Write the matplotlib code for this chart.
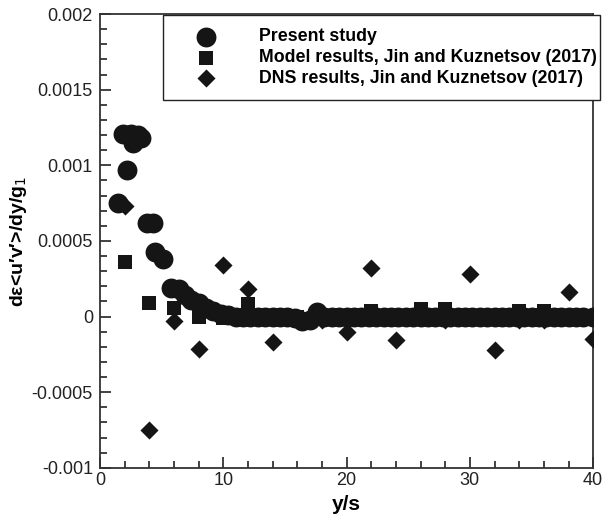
import matplotlib
matplotlib.use("Agg")
import matplotlib.pyplot as plt
from matplotlib.ticker import MultipleLocator, FuncFormatter

plt.rcParams['font.family'] = ['Liberation Sans', 'DejaVu Sans']

# present study
present_x = [1.5, 1.9, 2.2, 2.5, 2.7, 3.1, 3.3, 3.8, 4.3, 4.5, 5.1, 5.8, 6.4, 6.9,
             7.4, 8.0, 8.6, 9.2, 9.8, 10.4, 11.0, 11.6, 12.2, 12.8, 13.4, 14.0,
             14.6, 15.2, 15.8, 16.4, 17.0, 17.6, 18.2, 18.8, 19.4, 20.0, 20.6,
             21.2, 21.8, 22.4, 23.0, 23.6, 24.2, 24.8, 25.4, 26.0, 26.6, 27.2,
             27.8, 28.4, 29.0, 29.6, 30.2, 30.8, 31.4, 32.0, 32.6, 33.2, 33.8,
             34.4, 35.0, 35.6, 36.2, 36.8, 37.4, 38.0, 38.6, 39.2, 40.0]
present_y = [0.00075, 0.00121, 0.00097, 0.00121, 0.00115, 0.00120, 0.00118,
             0.00062, 0.00062, 0.00043, 0.00038, 0.00019, 0.00018, 0.00014,
             0.00011, 0.00009, 0.00006, 0.00004, 0.00002, 0.00001, 0.0, 0.0,
             0.0, 0.0, 0.0, 0.0, 0.0, 0.0, -0.00001, -0.00003, -0.00002,
             0.00003, 0.0, 0.0, 0.0, 0.0, 0.0, 0.0, 0.0, 0.0, 0.0, 0.0, 0.0,
             0.0, 0.0, 0.0, 0.0, 0.0, 0.0, 0.0, 0.0, 0.0, 0.0, 0.0, 0.0, 0.0,
             0.0, 0.0, 0.0, 0.0, 0.0, 0.0, 0.0, 0.0, 0.0, 0.0, 0.0, 0.0, 0.0]

# model results, Jin and Kuznetsov (2017)
model_x = [2, 4, 6, 8, 10, 12, 14, 16, 18, 20, 22, 24, 26, 28, 30, 32, 34, 36, 38, 40]
model_y = [0.00036, 0.00009, 0.00006, 0.0, -0.00001, 0.00008, -0.00001, 0.0,
           0.0, 0.0, 0.00004, 0.0, 0.00005, 0.00005, -0.00001, 0.0, 0.00004,
           0.00004, 0.0, 0.0]

# DNS results, Jin and Kuznetsov (2017)
dns_x = [2, 4, 6, 8, 10, 12, 14, 16, 18, 20, 22, 24, 26, 28, 30, 32, 34, 36, 38, 40]
dns_y = [0.00073, -0.00075, -0.00003, -0.000215, 0.00034, 0.00018, -0.00017,
         -0.00002, -0.00002, -0.0001, 0.00032, -0.000155, 0.0, -0.00002,
         0.00028, -0.00022, -0.00002, -0.00002, 0.00016, -0.00015]

col = '#151515'
fig = plt.figure(figsize=(6.09, 5.21), dpi=100)
ax = fig.add_axes([0.164, 0.102, 0.81, 0.871])

ax.scatter(present_x, present_y, s=205, marker='o', color=col, lw=0, label='Present study', zorder=3)
ax.scatter(model_x, model_y, s=90, marker='s', color=col, lw=0,
           label='Model results, Jin and Kuznetsov (2017)', zorder=3)
ax.scatter(dns_x, dns_y, s=85, marker='D', color=col, lw=0,
           label='DNS results, Jin and Kuznetsov (2017)', zorder=3)

ax.set_xlim(0, 40)
ax.set_ylim(-0.001, 0.002)
ax.xaxis.set_major_locator(MultipleLocator(10))
ax.xaxis.set_minor_locator(MultipleLocator(2))
ax.yaxis.set_major_locator(MultipleLocator(0.0005))
ax.yaxis.set_minor_locator(MultipleLocator(0.0001))
ax.yaxis.set_major_formatter(FuncFormatter(lambda v, p: '{:g}'.format(round(v, 6))))
ax.xaxis.set_major_formatter(FuncFormatter(lambda v, p: '{:g}'.format(v)))

ax.tick_params(which='both', direction='in', top=False, right=False,
               labelsize=13, colors='#222222', width=1.2)
ax.tick_params(which='major', length=8)
ax.tick_params(which='minor', length=5)
ax.tick_params(axis='y', pad=5)
ax.tick_params(axis='x', pad=3)
for sp in ax.spines.values():
    sp.set_color('#333333')
    sp.set_linewidth(1.3)

ax.set_xlabel('y/s', fontsize=15, fontweight='bold', labelpad=4)
ax.set_ylabel('dε<u′v′>/dy/g$_1$', fontsize=14, fontweight='bold', labelpad=2)

# legend box spans roughly x 163..597 px, top at 15 px
leg = ax.legend(loc='upper left', bbox_to_anchor=(0.128, 0.998, 0.885, 0.0), mode='expand',
                fancybox=False, edgecolor='#222222', framealpha=1, borderpad=0.75,
                handlelength=3.35, handletextpad=1.3, labelspacing=0.22,
                prop={'weight': 'bold', 'size': 12.8}, borderaxespad=0)
leg.get_frame().set_linewidth(1.0)

fig.savefig('out.png', dpi=100)
